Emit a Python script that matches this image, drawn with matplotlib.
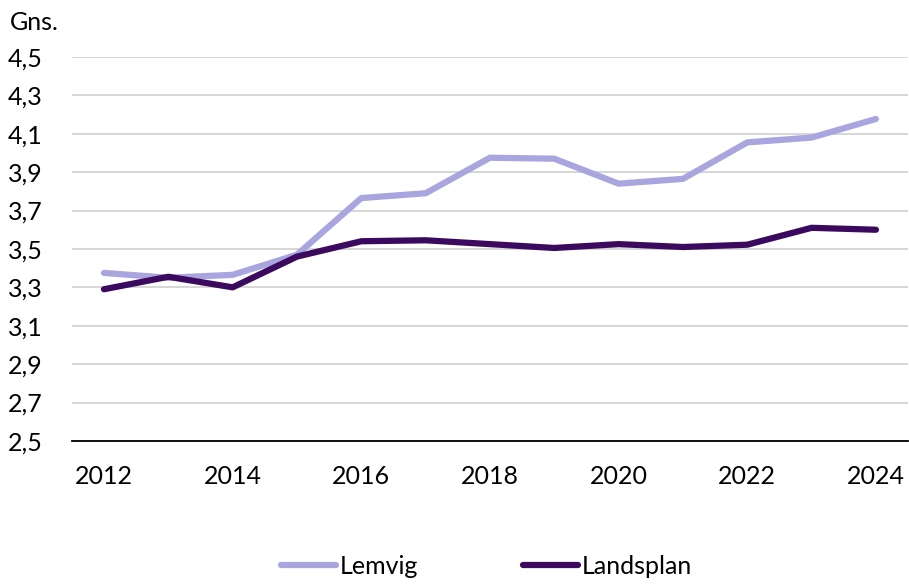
import matplotlib.pyplot as plt

plt.rcParams['font.family'] = ['Lato', 'DejaVu Sans']

years = list(range(2012, 2025))
lemvig = [3.375, 3.35, 3.365, 3.47, 3.765, 3.79, 3.975, 3.97, 3.84, 3.865, 4.055, 4.08, 4.177]
landsplan = [3.29, 3.355, 3.30, 3.46, 3.54, 3.545, 3.525, 3.505, 3.525, 3.51, 3.522, 3.61, 3.60]
yticks = [2.5, 2.7, 2.9, 3.1, 3.3, 3.5, 3.7, 3.9, 4.1, 4.3, 4.5]
ytick_labels = ['2,5', '2,7', '2,9', '3,1', '3,3', '3,5', '3,7', '3,9', '4,1', '4,3', '4,5']
xticks = [2012, 2014, 2016, 2018, 2020, 2022, 2024]

fig = plt.figure(figsize=(9.09, 5.84), dpi=100)
ax = fig.add_axes([0.079, 0.245, 0.92, 0.6575])

ax.plot(years, lemvig, color='#A9A5DF', lw=4.5, solid_capstyle='round',
        solid_joinstyle='round', label='Lemvig')
ax.plot(years, landsplan, color='#3B0A5E', lw=4.5, solid_capstyle='round',
        solid_joinstyle='round', label='Landsplan')

ax.set_xlim(2011.5, 2024.5)
ax.set_ylim(2.5, 4.5)
ax.set_yticks(yticks)
ax.set_yticklabels(ytick_labels)
ax.set_xticks(xticks)
ax.yaxis.grid(True, color='#D0D0D0', lw=1.2)
ax.set_axisbelow(True)
for s in ['left', 'right', 'top']:
    ax.spines[s].set_visible(False)
ax.spines['bottom'].set_color('#000000')
ax.spines['bottom'].set_linewidth(1.3)
ax.tick_params(axis='y', length=0, pad=46, labelsize=18)
ax.tick_params(axis='x', length=0, pad=17, labelsize=18)
for lbl in ax.get_yticklabels():
    lbl.set_horizontalalignment('left')

fig.text(0.011, 0.962, 'Gns.', fontsize=18, va='center', ha='left')

fig.legend(loc='lower center', bbox_to_anchor=(0.535, -0.028), ncol=2, frameon=False,
           fontsize=18, handlelength=2.2, handletextpad=0.15, columnspacing=4.2)

fig.savefig('out.png', dpi=100)
